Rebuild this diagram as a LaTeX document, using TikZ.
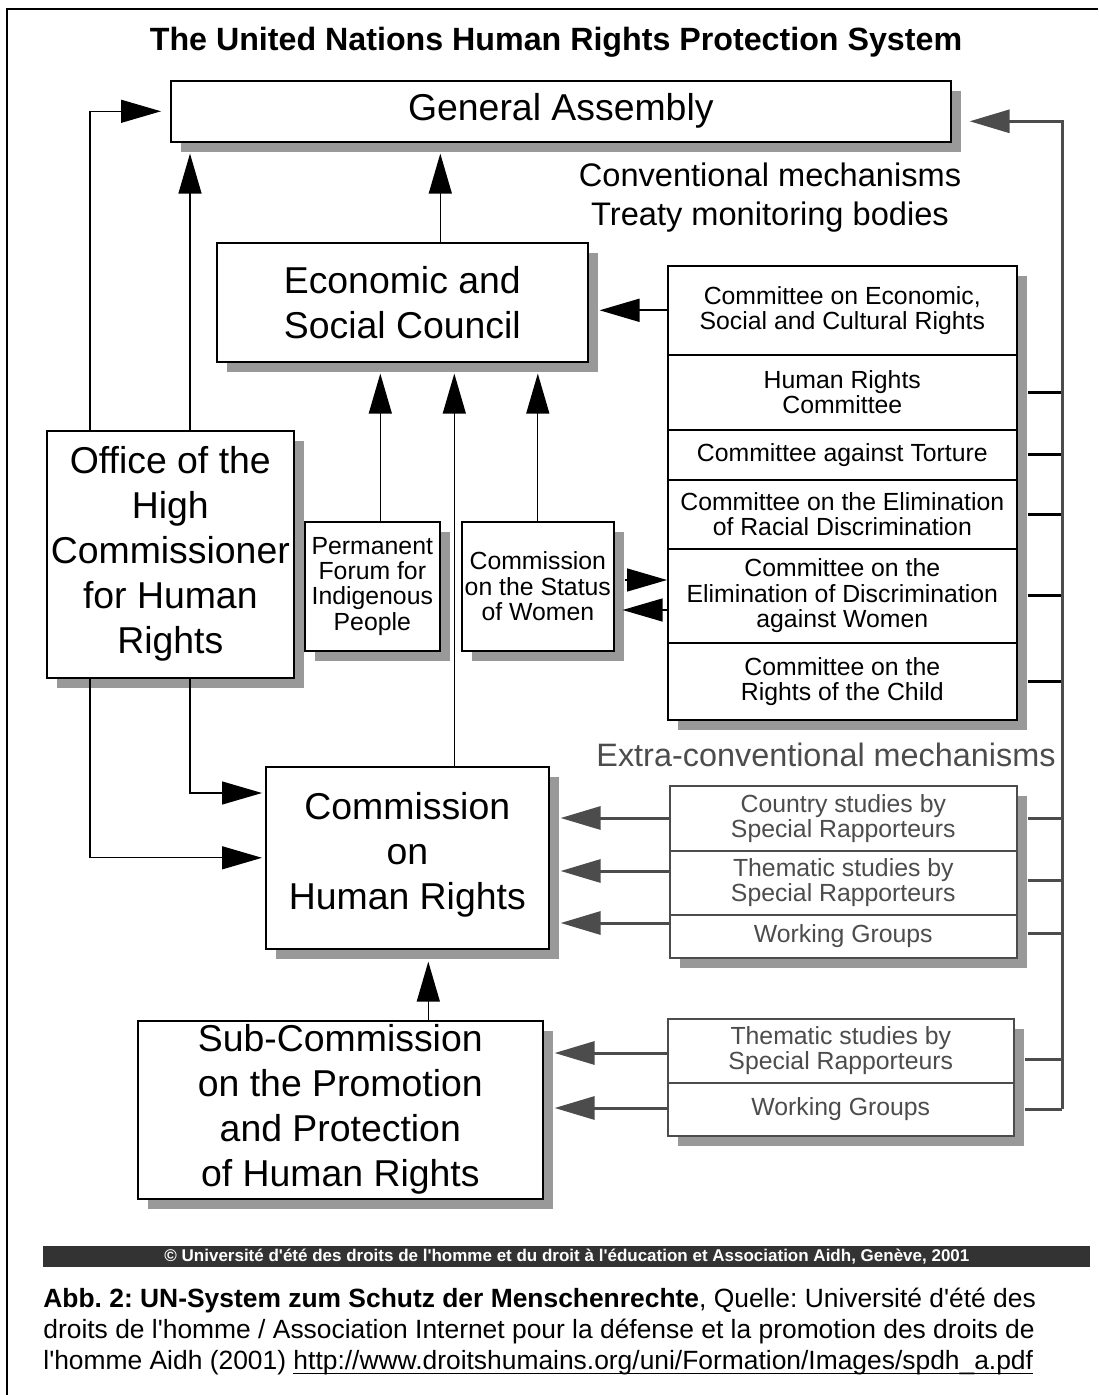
\documentclass[tikz,border=0pt]{standalone}
\usepackage{fontspec}
\setmainfont{Liberation Sans}[Ligatures=TeXOff]
\usetikzlibrary{arrows.meta,shadows}

\newdimen\px \px=0.5pt
\newcommand{\lowline}[1]{\setbox0\hbox{#1}\rlap{\rule[-2pt]{\wd0}{0.6pt}}\box0}
\frenchspacing

\begin{document}
\begin{tikzpicture}[x=0.5pt, y=-0.5pt,
    box/.style={draw, line width=0.8pt, fill=white, inner sep=0pt, anchor=north west, align=center,
      drop shadow={shadow xshift=10\px, shadow yshift=-10\px, fill=black!40, opacity=1}},
    big/.style={font=\fontsize{18.7}{22.5}\selectfont},
    small/.style={font=\fontsize{12.4}{12.7}\selectfont},
    row/.style={box, small, minimum width=349\px},
    xrow/.style={box, small, draw=black!70, text=black!70},
    arr/.style={-{Triangle[length=20pt, width=11.5pt]}, line width=0.65pt, shorten >=11\px},
    garr/.style={arr, color=black!70, line width=1.5pt},
    tick/.style={line width=1.5pt},
    gtick/.style={tick, color=black!70}]

  \useasboundingbox (0,0) rectangle (1098,1395);
  \draw[line width=1pt] (7,1395) -- (7,9) -- (1098,9);

  \node[font=\fontsize{16.1}{19}\selectfont\bfseries] (title) at (556,42) {The United Nations Human Rights Protection System};

  % bodies
  \node[box, big, minimum width=780\px, minimum height=61\px] (ga) at (170,80) {General Assembly};
  \node[box, big, minimum width=371\px, minimum height=119\px] (ecosoc) at (216,242) {Economic and\\Social Council};
  \node[box, big, minimum width=247\px, minimum height=247\px] (ohchr) at (46,430) {Office of the\\High\\Commissioner\\for Human\\Rights};
  \node[box, small, minimum width=135\px, minimum height=129\px] (pfip) at (304,521) {Permanent\\Forum for\\Indigenous\\People};
  \node[box, small, minimum width=152\px, minimum height=129\px] (csw) at (461,521) {Commission\\on the Status\\of Women};
  \node[box, big, minimum width=283\px, minimum height=182\px] (chr) at (265,766) {Commission\\on\\Human Rights\\[-15.5pt]\mbox{}};
  \node[box, big, minimum width=405\px, minimum height=178\px] (subc) at (137,1020) {Sub-Commission\\on the Promotion\\and Protection\\of Human Rights};

  \node[font=\fontsize{16.3}{19.5}\selectfont, align=center] (conv) at (770,198) {Conventional mechanisms\\Treaty monitoring bodies};
  \node[font=\fontsize{16.2}{19.5}\selectfont, text=black!70] (extra) at (826,755) {Extra-conventional mechanisms};

  % treaty bodies
  \foreach \n/\y/\h/\t in {1/265/89/{Committee on Economic,\\Social and Cultural Rights},
      2/354/75/{Human Rights\\Committee}, 3/429/50/{Committee against Torture},
      4/479/69/{Committee on the Elimination\\of Racial Discrimination},
      5/548/94/{Committee on the\\Elimination of Discrimination\\against Women},
      6/642/77/{Committee on the\\Rights of the Child}}
    \node[row, minimum height=\h\px] (t\n) at (667,\y) {\t};

  % extra-conventional
  \foreach \n/\y/\h/\t in {1/785/65/{Country studies by\\Special Rapporteurs},
      2/850/64/{Thematic studies by\\Special Rapporteurs}, 3/914/43/{Working Groups}}
    \node[xrow, minimum width=347\px, minimum height=\h\px] (e\n) at (669,\y) {\t};
  \foreach \n/\y/\h/\t in {1/1018/64/{Thematic studies by\\Special Rapporteurs}, 2/1082/53/{Working Groups}}
    \node[xrow, minimum width=346\px, minimum height=\h\px] (s\n) at (667,\y) {\t};

  % connectors
  \coordinate (oa) at ([xshift=44\px]ohchr.north west);
  \coordinate (ob) at ([xshift=144\px]ohchr.north west);
  \coordinate (ea) at ([xshift=38\px]ecosoc.north);
  \coordinate (pa) at ([xshift=8\px]pfip.north);
  \coordinate (ha) at ([xshift=47\px]chr.north);
  \coordinate (sa) at ([xshift=88\px]subc.north);
  \coordinate (wa) at ([yshift=-32\px]t5.north west);
  \coordinate (wb) at ([yshift=-62\px]t5.north west);
  \coordinate (bus) at (1062,0);
  \coordinate (busend) at ([yshift=-27\px]s2.north east);
  \coordinate (bustop) at ([yshift=-10\px]ga.east);

  \draw[arr, shorten >=9\px] (oa) |- (ga.west);
  \draw[arr] (ob) -- (ob |- ga.south);
  \draw[arr] (ea) -- (ea |- ga.south);
  \draw[arr] (pa) -- (pa |- ecosoc.south);
  \draw[arr] (csw.north) -- (csw.north |- ecosoc.south);
  \draw[arr] (ha) -- (ha |- ecosoc.south);
  \draw[arr, shorten >=12\px] (sa) -- (sa |- chr.south);
  \draw[arr, shorten >=3\px] (oa |- ohchr.south) |- (chr.west);
  \draw[arr, shorten >=3\px] (ob |- ohchr.south) |- ([yshift=-27\px]chr.north west);
  \draw[arr, line width=1pt] (t1.west) -- (t1.west -| ecosoc.east);
  \draw[arr, shorten >=0pt, shorten <=10\px] (wa -| csw.east) -- (wa);
  \draw[arr, shorten >=8\px] (wb) -- (wb -| csw.east);

  \foreach \n in {2,...,6}
    \draw[tick] ([xshift=10\px]t\n.east) -- (t\n.east -| bus);

  \foreach \r/\g/\a/\b in {e1/chr/33/33, e2/chr/21/30, e3/chr/9/19, s1/subc/35/41, s2/subc/26/27} {
    \coordinate (p) at ([yshift=-\a\px]\r.north west);
    \coordinate (q) at ([yshift=-\b\px]\r.north east);
    \draw[garr] (p) -- (p -| \g.east);
    \draw[gtick] ([xshift=10\px]q) -- (q -| bus);
  }
  \draw[garr, shorten >=18\px] (busend -| bus) |- (bustop);

  % footer
  \node[fill=black!80, text=white, minimum width=1047\px, minimum height=21\px, inner sep=0pt,
    anchor=north west, font=\fontsize{8.5}{10}\selectfont\bfseries] (bar) at (43,1246)
    {© Université d'été des droits de l'homme et du droit à l'éducation et Association Aidh, Genève, 2001};
  \node[anchor=north west, inner sep=0pt, align=left, font=\fontsize{13.2}{15.5}\selectfont] (cap) at (43,1288)
    {\textbf{Abb. 2: UN-System zum Schutz der Menschenrechte}, Quelle: Université d'été des\\
     droits de l'homme / Association Internet pour la défense et la promotion des droits de\\
     l'homme Aidh (2001) \lowline{http://www.droitshumains.org/uni/Formation/Images/spdh\_a.pdf}};
\end{tikzpicture}
\end{document}
